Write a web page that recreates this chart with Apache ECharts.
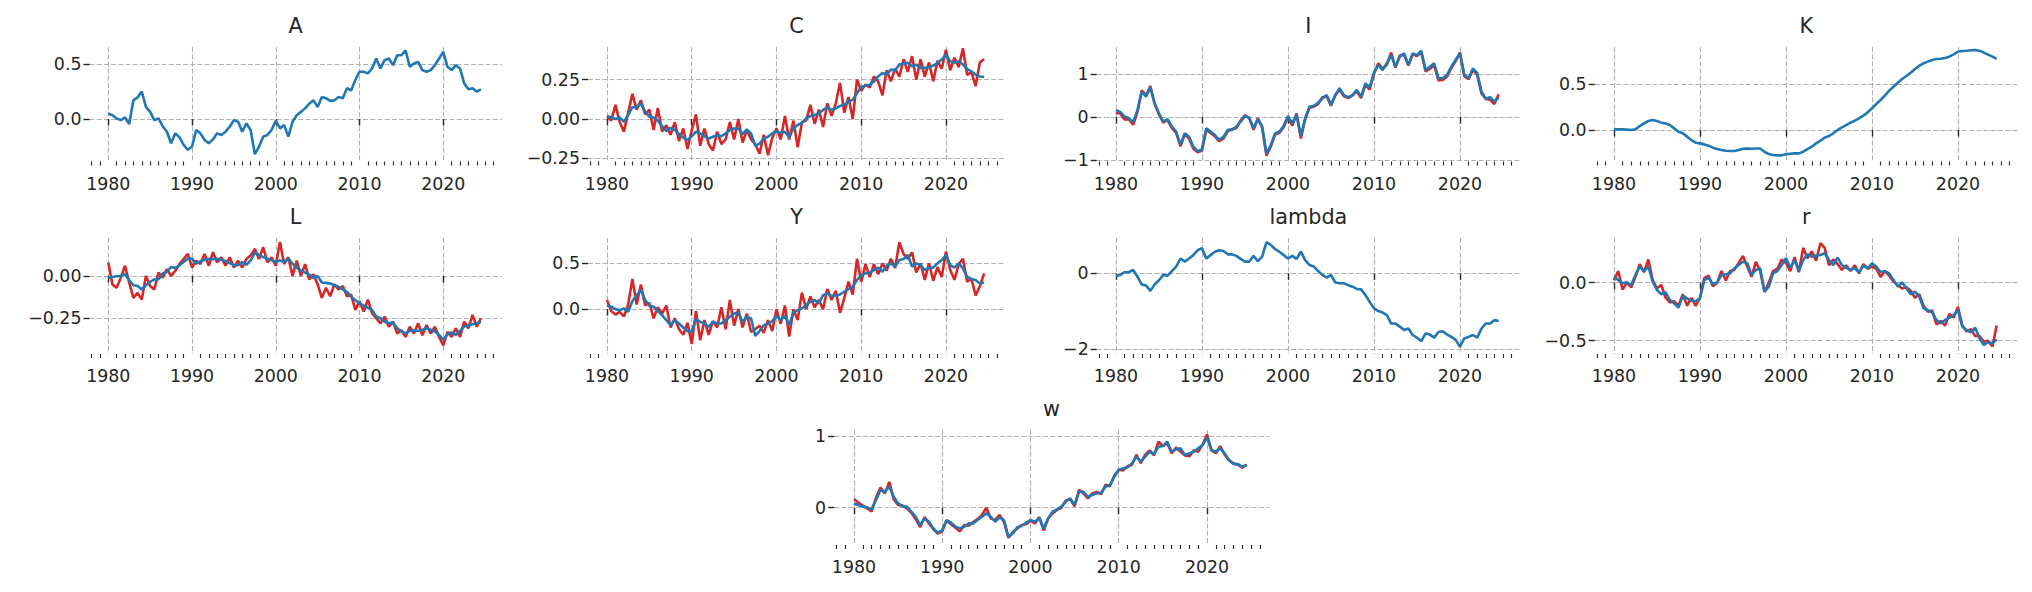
<!DOCTYPE html>
<html><head><meta charset="utf-8">
<script src="https://cdn.jsdelivr.net/npm/echarts@6/dist/echarts.min.js"></script>
<style>html,body{margin:0;padding:0;background:#fff}#c{width:2032px;height:592px}</style>
</head><body><div id="c"></div>
<script>
// half-yearly observations, first point 1980.0
const START_YEAR = 1980, STEP = 0.5;
const X_MIN = 1977.76, X_MAX = 2026.99;
const xMajor = [1980, 1990, 2000, 2010, 2020];
const xMinor = [1978,1979,1981,1982,1983,1984,1985,1986,1987,1988,1989,1991,1992,1993,1994,1995,1996,1997,1998,1999,
  2001,2002,2003,2004,2005,2006,2007,2008,2009,2011,2012,2013,2014,2015,2016,2017,2018,2019,2021,2022,2023,2024,2025,2026];

const A_fit = [0.05,0.035,0.005,-0.01,0.015,-0.045,0.17,0.197,0.25,0.11,
  0.065,-0.01,0.005,-0.065,-0.115,-0.22,-0.13,-0.165,-0.235,-0.28,
  -0.25,-0.1,-0.13,-0.19,-0.22,-0.185,-0.13,-0.145,-0.115,-0.07,
  -0.01,-0.025,-0.115,-0.04,-0.10,-0.32,-0.25,-0.16,-0.145,-0.10,
  -0.015,-0.085,-0.055,-0.16,-0.025,0.035,0.065,0.097,0.14,0.17,
  0.11,0.2,0.19,0.165,0.17,0.2,0.19,0.28,0.26,0.355,
  0.43,0.43,0.415,0.46,0.55,0.46,0.535,0.55,0.49,0.58,
  0.58,0.625,0.475,0.505,0.52,0.445,0.43,0.445,0.49,0.55,
  0.61,0.475,0.445,0.49,0.46,0.325,0.27,0.28,0.25,0.27];

const C_fit = [0.019,0.01,0,0.01,-0.017,0.026,0.075,0.075,0.1,0.047,
  0.015,0.01,-0.01,-0.045,-0.077,-0.055,-0.07,-0.096,-0.117,-0.135,
  -0.109,-0.081,-0.092,-0.109,-0.124,-0.113,-0.103,-0.109,-0.092,-0.07,
  -0.06,-0.06,-0.096,-0.066,-0.092,-0.171,-0.156,-0.124,-0.113,-0.092,
  -0.077,-0.088,-0.081,-0.117,-0.06,-0.038,-0.024,0.004,0.019,0.026,
  0.036,0.058,0.075,0.058,0.068,0.083,0.09,0.111,0.122,0.165,
  0.203,0.211,0.218,0.239,0.271,0.293,0.282,0.314,0.31,0.346,
  0.353,0.357,0.335,0.346,0.325,0.325,0.331,0.34,0.357,0.378,
  0.41,0.368,0.357,0.368,0.346,0.318,0.303,0.282,0.271,0.267];
const C_obs = [0.015,-0.01,0.09,-0.02,-0.08,0.04,0.16,0.06,0.12,0.03,
  0.06,-0.07,0.07,-0.08,-0.04,-0.1,-0.02,-0.14,-0.06,-0.19,
  -0.07,0.03,-0.17,-0.06,-0.16,-0.2,-0.08,-0.16,-0.13,-0.02,
  -0.13,0.0,-0.15,-0.07,-0.13,-0.16,-0.22,-0.1,-0.23,-0.12,
  -0.06,-0.13,0.02,-0.13,-0.01,-0.18,-0.02,-0.01,0.09,-0.03,
  0.06,-0.05,0.1,0.02,0.1,0.23,0.04,0.14,0.0,0.25,
  0.18,0.22,0.2,0.27,0.24,0.15,0.31,0.24,0.32,0.27,
  0.38,0.3,0.4,0.25,0.38,0.27,0.36,0.24,0.37,0.32,
  0.44,0.31,0.39,0.33,0.45,0.28,0.3,0.21,0.36,0.38];

const I_fit = [0.16,0.12,0.01,-0.03,-0.12,0.16,0.59,0.47,0.69,0.32,
  0.085,-0.11,-0.05,-0.22,-0.34,-0.65,-0.38,-0.46,-0.69,-0.8,
  -0.75,-0.26,-0.34,-0.42,-0.53,-0.46,-0.3,-0.3,-0.22,-0.11,
  0.02,-0.01,-0.26,-0.05,-0.22,-0.86,-0.65,-0.38,-0.34,-0.21,
  0.02,-0.15,0.05,-0.44,-0.03,0.24,0.26,0.33,0.43,0.51,
  0.28,0.51,0.67,0.51,0.46,0.51,0.63,0.47,0.78,0.69,
  1.03,1.21,1.09,1.25,1.44,1.17,1.4,1.48,1.21,1.48,
  1.44,1.54,1.09,1.17,1.25,0.9,0.9,0.98,1.17,1.33,
  1.48,0.98,0.9,1.13,1.02,0.59,0.43,0.46,0.36,0.45];
const I_obs = [0.1,0.08,-0.06,-0.05,-0.18,0.12,0.62,0.5,0.72,0.3,
  0.06,-0.13,-0.07,-0.26,-0.37,-0.68,-0.4,-0.5,-0.74,-0.82,
  -0.78,-0.3,-0.37,-0.45,-0.56,-0.5,-0.33,-0.28,-0.26,-0.08,
  0.04,-0.03,-0.3,-0.03,-0.25,-0.9,-0.69,-0.41,-0.37,-0.24,
  0.0,-0.2,0.08,-0.5,-0.06,0.22,0.24,0.3,0.46,0.48,
  0.26,0.5,0.64,0.48,0.44,0.5,0.6,0.44,0.74,0.64,
  1.0,1.25,1.12,1.22,1.5,1.15,1.43,1.45,1.2,1.46,
  1.42,1.5,1.06,1.12,1.2,0.85,0.86,0.94,1.14,1.3,
  1.5,0.95,0.88,1.1,0.98,0.55,0.42,0.4,0.3,0.53];

const K_fit = [0.007,0.007,0.007,0.004,0.0,0.007,0.043,0.072,0.098,0.109,
  0.098,0.08,0.072,0.054,0.018,-0.018,-0.036,-0.072,-0.109,-0.138,
  -0.145,-0.156,-0.17,-0.192,-0.207,-0.217,-0.225,-0.228,-0.228,-0.217,
  -0.203,-0.2,-0.203,-0.2,-0.2,-0.236,-0.261,-0.272,-0.275,-0.275,
  -0.264,-0.257,-0.254,-0.254,-0.236,-0.207,-0.181,-0.145,-0.116,-0.083,
  -0.065,-0.036,0.0,0.029,0.054,0.08,0.101,0.127,0.156,0.192,
  0.236,0.283,0.326,0.373,0.428,0.471,0.514,0.554,0.587,0.623,
  0.663,0.699,0.725,0.743,0.761,0.772,0.775,0.783,0.797,0.822,
  0.851,0.859,0.862,0.866,0.87,0.862,0.841,0.819,0.797,0.772];

const L_fit = [-0.012,-0.006,-0.002,0.0,0.01,-0.025,-0.055,-0.059,-0.08,-0.055,
  -0.035,-0.021,-0.02,0.014,0.023,0.053,0.047,0.063,0.082,0.102,
  0.102,0.072,0.086,0.096,0.102,0.098,0.102,0.096,0.088,0.076,
  0.063,0.063,0.082,0.066,0.092,0.137,0.125,0.111,0.102,0.092,
  0.082,0.092,0.082,0.102,0.072,0.047,0.033,0.02,0.008,-0.012,
  0.0,-0.039,-0.041,-0.045,-0.055,-0.064,-0.08,-0.094,-0.123,-0.143,
  -0.162,-0.176,-0.188,-0.201,-0.24,-0.25,-0.27,-0.279,-0.275,-0.309,
  -0.328,-0.338,-0.324,-0.322,-0.324,-0.318,-0.309,-0.318,-0.328,-0.348,
  -0.377,-0.344,-0.334,-0.348,-0.324,-0.299,-0.293,-0.285,-0.279,-0.27];
const L_obs = [0.08,-0.05,-0.07,-0.01,0.06,-0.04,-0.13,-0.1,-0.14,0.0,
  -0.06,-0.08,0.02,-0.01,0.04,0.0,0.03,0.07,0.1,0.13,
  0.05,0.09,0.07,0.13,0.06,0.14,0.08,0.11,0.06,0.11,
  0.05,0.09,0.05,0.1,0.12,0.16,0.1,0.17,0.08,0.11,
  0.06,0.2,0.07,0.11,0.0,0.09,0.0,0.07,-0.02,0.01,
  -0.05,-0.13,-0.07,-0.12,-0.05,-0.08,-0.06,-0.12,-0.11,-0.2,
  -0.15,-0.21,-0.14,-0.22,-0.25,-0.28,-0.24,-0.3,-0.27,-0.34,
  -0.32,-0.36,-0.3,-0.34,-0.28,-0.35,-0.29,-0.34,-0.3,-0.36,
  -0.41,-0.33,-0.36,-0.31,-0.36,-0.27,-0.31,-0.23,-0.3,-0.25];

const Y_fit = [0.044,0.026,0.0,-0.011,0.007,-0.029,0.088,0.153,0.208,0.099,
  0.036,0.026,-0.022,-0.066,-0.12,-0.175,-0.12,-0.157,-0.2,-0.24,
  -0.248,-0.11,-0.139,-0.157,-0.193,-0.139,-0.157,-0.157,-0.12,-0.084,
  -0.047,-0.036,-0.139,-0.084,-0.102,-0.292,-0.24,-0.175,-0.157,-0.131,
  -0.073,-0.12,-0.073,-0.175,-0.036,-0.011,0.007,0.044,0.08,0.099,
  0.062,0.153,0.172,0.146,0.146,0.161,0.19,0.219,0.245,0.318,
  0.372,0.39,0.401,0.427,0.453,0.409,0.474,0.5,0.464,0.536,
  0.547,0.591,0.464,0.5,0.482,0.427,0.453,0.453,0.5,0.536,
  0.591,0.482,0.453,0.5,0.445,0.354,0.328,0.318,0.281,0.292];
const Y_obs = [0.1,-0.02,-0.06,-0.03,-0.08,0.05,0.33,0.05,0.27,0.04,
  0.07,-0.1,0.02,-0.05,0.04,-0.2,-0.1,-0.22,-0.28,-0.15,
  -0.38,-0.02,-0.34,-0.12,-0.28,-0.13,-0.2,0.02,-0.22,0.1,
  -0.18,0.0,-0.2,-0.05,-0.25,-0.22,-0.18,-0.26,-0.12,-0.24,
  0.0,-0.16,0.04,-0.3,0.0,-0.12,0.18,0.0,0.14,0.02,
  0.1,0.0,0.22,0.1,0.2,-0.04,0.12,0.3,0.16,0.55,
  0.3,0.49,0.35,0.49,0.38,0.5,0.42,0.55,0.45,0.73,
  0.6,0.55,0.62,0.4,0.5,0.32,0.5,0.31,0.46,0.35,
  0.63,0.43,0.32,0.49,0.55,0.3,0.33,0.15,0.25,0.39];

const lambda_fit = [-0.07,-0.04,0.03,0.03,0.09,-0.09,-0.29,-0.32,-0.46,-0.29,
  -0.18,-0.04,-0.06,0.06,0.18,0.39,0.31,0.39,0.48,0.61,
  0.66,0.39,0.48,0.57,0.61,0.59,0.5,0.5,0.46,0.38,
  0.31,0.31,0.46,0.32,0.44,0.82,0.75,0.64,0.57,0.48,
  0.39,0.46,0.38,0.57,0.35,0.22,0.18,0.06,-0.04,-0.11,
  -0.04,-0.24,-0.26,-0.26,-0.31,-0.35,-0.41,-0.42,-0.57,-0.75,
  -0.92,-0.99,-1.03,-1.1,-1.32,-1.32,-1.4,-1.49,-1.45,-1.62,
  -1.69,-1.78,-1.58,-1.61,-1.69,-1.54,-1.52,-1.61,-1.67,-1.75,
  -1.93,-1.71,-1.67,-1.62,-1.69,-1.45,-1.32,-1.32,-1.23,-1.25];

const r_fit = [0.052,0.023,-0.006,0.003,-0.02,0.066,0.138,0.1,0.138,0.009,
  -0.063,-0.1,-0.083,-0.149,-0.178,-0.216,-0.112,-0.135,-0.158,-0.158,
  -0.135,0.023,0.043,-0.014,0.003,0.066,0.072,0.08,0.124,0.152,
  0.181,0.167,0.066,0.109,0.124,-0.078,-0.034,0.08,0.1,0.152,
  0.21,0.129,0.195,0.1,0.195,0.244,0.224,0.233,0.239,0.253,
  0.195,0.152,0.216,0.152,0.129,0.109,0.124,0.089,0.147,0.124,
  0.167,0.138,0.089,0.1,0.08,0.023,-0.034,0.003,-0.049,-0.1,
  -0.078,-0.121,-0.221,-0.236,-0.256,-0.322,-0.351,-0.322,-0.302,-0.279,
  -0.236,-0.379,-0.408,-0.428,-0.388,-0.48,-0.537,-0.514,-0.523,-0.49];
const r_obs = [0.02,0.1,-0.06,0.0,-0.04,0.05,0.16,0.09,0.2,0.02,
  -0.05,-0.02,-0.13,-0.17,-0.16,-0.2,-0.1,-0.2,-0.13,-0.2,
  -0.13,0.04,0.06,-0.03,0.0,0.1,0.02,0.1,0.11,0.17,
  0.23,0.14,0.05,0.18,0.1,-0.08,0.0,0.1,0.12,0.2,
  0.17,0.1,0.22,0.09,0.3,0.21,0.27,0.19,0.34,0.3,
  0.15,0.2,0.16,0.11,0.15,0.1,0.15,0.08,0.16,0.12,
  0.14,0.12,0.05,0.1,0.06,0.01,-0.02,-0.05,-0.04,-0.07,
  -0.13,-0.1,-0.2,-0.25,-0.24,-0.36,-0.33,-0.37,-0.27,-0.3,
  -0.21,-0.37,-0.42,-0.4,-0.46,-0.46,-0.51,-0.5,-0.55,-0.37];

const w_fit = [0.06,0.037,0.014,0.005,-0.023,0.107,0.247,0.223,0.293,0.153,
  0.06,0.023,0.014,-0.056,-0.126,-0.242,-0.149,-0.195,-0.288,-0.349,
  -0.312,-0.172,-0.209,-0.265,-0.288,-0.265,-0.219,-0.219,-0.172,-0.126,
  -0.079,-0.126,-0.195,-0.135,-0.172,-0.405,-0.358,-0.274,-0.256,-0.209,
  -0.172,-0.195,-0.149,-0.288,-0.149,-0.056,-0.023,0.014,0.084,0.13,
  0.037,0.223,0.223,0.153,0.177,0.2,0.209,0.293,0.316,0.433,
  0.526,0.549,0.563,0.619,0.712,0.642,0.712,0.781,0.749,0.851,
  0.86,0.921,0.781,0.814,0.828,0.735,0.758,0.781,0.828,0.874,
  0.981,0.805,0.781,0.828,0.758,0.665,0.609,0.609,0.572,0.595];
const w_obs = [0.12,0.07,0.03,-0.01,-0.05,0.14,0.28,0.2,0.36,0.12,
  0.04,0.03,-0.01,-0.07,-0.16,-0.27,-0.13,-0.22,-0.3,-0.36,
  -0.33,-0.18,-0.23,-0.28,-0.33,-0.24,-0.25,-0.2,-0.16,-0.1,
  0.0,-0.15,-0.17,-0.1,-0.2,-0.42,-0.34,-0.29,-0.24,-0.23,
  -0.18,-0.22,-0.13,-0.32,-0.15,-0.08,-0.03,0.0,0.1,0.12,
  0.02,0.25,0.2,0.13,0.2,0.22,0.19,0.32,0.3,0.45,
  0.53,0.52,0.58,0.6,0.74,0.62,0.74,0.8,0.73,0.92,
  0.86,0.9,0.76,0.84,0.78,0.73,0.72,0.8,0.78,0.88,
  1.02,0.8,0.76,0.86,0.74,0.66,0.62,0.6,0.56,0.6];

// panel definitions: title, series, y ticks, decimals, y extent
const panels = [
  {title:'A', fit:A_fit, obs:null, yTicks:[0,0.5], dec:1, yMin:-0.386, yMax:0.655},
  {title:'C', fit:C_fit, obs:C_obs, yTicks:[-0.25,0,0.25], dec:2, yMin:-0.27, yMax:0.458},
  {title:'I', fit:I_fit, obs:I_obs, yTicks:[-1,0,1], dec:0, yMin:-1.035, yMax:1.628},
  {title:'K', fit:K_fit, obs:null, yTicks:[0,0.5], dec:1, yMin:-0.342, yMax:0.902},
  {title:'L', fit:L_fit, obs:L_obs, yTicks:[-0.25,0], dec:2, yMin:-0.461, yMax:0.224},
  {title:'Y', fit:Y_fit, obs:Y_obs, yTicks:[0,0.5], dec:1, yMin:-0.49, yMax:0.777},
  {title:'lambda', fit:lambda_fit, obs:null, yTicks:[-2,0], dec:0, yMin:-2.12, yMax:0.93},
  {title:'r', fit:r_fit, obs:r_obs, yTicks:[-0.5,0], dec:1, yMin:-0.615, yMax:0.385},
  {title:'w', fit:w_fit, obs:w_obs, yTicks:[0,1], dec:0, yMin:-0.52, yMax:1.084}
];

// layout (pixels)
const colLeft = [89.5, 588.0, 1096.7, 1594.7];
const colWidth = [412.3, 417.2, 423.4, 423.4];
const rowTop = [47, 238, 430];
const rowHeight = [114.5, 116, 115];
const lastLeft = 834.2, lastWidth = 434.5;

const FONT = 'DejaVu Sans';
const TXT = '#262626';
const BLUE = '#1f77b4', RED = '#d62728';
const gridLine = {show:true, lineStyle:{color:'#b0b0b0', type:[5,2.2], width:1.1}};

function fmt(v, dec){ return (v < 0 ? '\u2212' : '') + Math.abs(v).toFixed(dec); }
function toXY(arr){ return arr.map((v,i)=>[START_YEAR + i*STEP, v]); }

const grids=[], xAxes=[], yAxes=[], series=[], titles=[];
panels.forEach((p, i) => {
  const row = Math.floor(i/4), col = i%4;
  const left = row < 2 ? colLeft[col] : lastLeft;
  const width = row < 2 ? colWidth[col] : lastWidth;
  const top = rowTop[row], height = rowHeight[row];
  grids.push({left, top, width, height, containLabel:false});
  xAxes.push({type:'value', gridIndex:i, min:X_MIN, max:X_MAX, position:'bottom',
    axisLine:{show:false},
    axisTick:{show:true, customValues:xMajor, length:6.5, lineStyle:{color:TXT, width:1.4}},
    axisLabel:{customValues:xMajor, margin:13.5, fontSize:17.4, color:TXT, fontFamily:FONT, formatter:v=>String(v)},
    splitLine:gridLine});
  xAxes.push({type:'value', gridIndex:i, min:X_MIN, max:X_MAX, position:'bottom',
    axisLine:{show:false},
    axisTick:{show:true, customValues:xMinor, length:4, lineStyle:{color:TXT, width:1.1}},
    axisLabel:{show:false}, splitLine:{show:false}});
  yAxes.push({type:'value', gridIndex:i, min:p.yMin, max:p.yMax,
    axisLine:{show:false},
    axisTick:{show:true, customValues:p.yTicks, length:6, lineStyle:{color:TXT, width:1.4}},
    axisLabel:{customValues:p.yTicks, margin:8, fontSize:17.4, color:TXT, fontFamily:FONT, formatter:v=>fmt(v,p.dec)},
    splitLine:gridLine});
  if (p.obs) series.push({type:'line', name:p.title+' observed', xAxisIndex:2*i, yAxisIndex:i, data:toXY(p.obs),
    showSymbol:false, lineStyle:{color:RED, width:2.6}, itemStyle:{color:RED}, silent:true});
  series.push({type:'line', name:p.title, xAxisIndex:2*i, yAxisIndex:i, data:toXY(p.fit),
    showSymbol:false, lineStyle:{color:BLUE, width:2.6}, itemStyle:{color:BLUE}, silent:true});
  titles.push({text:p.title, left:left+width/2, top:top-20.8, textAlign:'center', textVerticalAlign:'middle', padding:0,
    textStyle:{fontSize:20.8, fontWeight:'normal', color:TXT, fontFamily:FONT}});
});

const chart = echarts.init(document.getElementById('c'), null, {renderer:'svg'});
chart.setOption({backgroundColor:'#fff', animation:false, title:titles, grid:grids, xAxis:xAxes, yAxis:yAxes, series});
</script></body></html>
